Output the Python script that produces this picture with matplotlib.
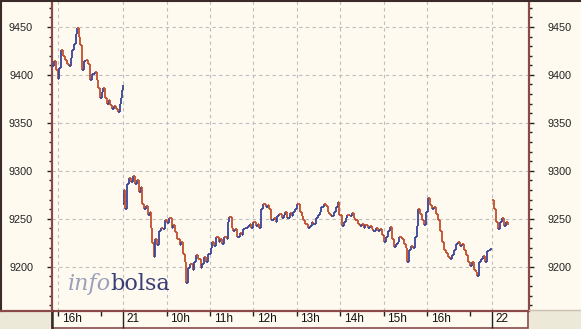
import numpy as np
import matplotlib.pyplot as plt
from matplotlib.collections import LineCollection
from matplotlib.patches import Rectangle
from matplotlib.lines import Line2D
from matplotlib.ticker import MultipleLocator

W, H = 581, 329
SESSION = 510  # trading minutes per day, 9:00 - 17:30

# minutes after 9:00 and index price, one list per trading day
d20_min = [412, 414, 417, 420, 421, 424, 427, 430, 432, 435,
           438, 439, 442, 445, 446, 449, 450, 453, 456, 459,
           462, 464, 467, 471, 474, 475, 478, 481, 482, 485,
           488, 491, 492, 495, 498, 500, 503, 506, 507, 509, 510]
d20_val = [9409, 9414, 9405, 9396, 9407, 9426, 9420, 9416, 9411, 9409,
           9418, 9426, 9432, 9443, 9449, 9439, 9431, 9405, 9414, 9416,
           9411, 9395, 9401, 9403, 9395, 9386, 9376, 9382, 9386, 9376,
           9370, 9374, 9369, 9364, 9368, 9364, 9361, 9370, 9376, 9384, 9389]

d21_min = [0, 1, 3, 6, 8, 11, 14, 17, 19, 22,
           25, 26, 29, 32, 35, 37, 39, 40, 42, 44,
           47, 50, 53, 55, 58, 61, 64, 67, 69, 72,
           75, 78, 80, 83, 86, 87, 90, 93, 96, 98,
           101, 104, 107, 109, 112, 115, 118, 121, 123, 126,
           129, 132, 134, 137, 140, 143, 145, 147, 150, 152,
           155, 158, 161, 164, 166, 169, 172, 175, 177, 180,
           183, 186, 188, 191, 194, 197, 200, 202, 205, 208,
           211, 213, 216, 219, 222, 224, 227, 230, 233, 235,
           238, 241, 244, 247, 249, 252, 255, 258, 261, 263,
           266, 269, 272, 274, 277, 280, 283, 285, 288, 291,
           294, 297, 299, 302, 305, 308, 310, 313, 316, 319,
           321, 324, 327, 330, 333, 335, 338, 341, 344, 346,
           349, 352, 355, 358, 360, 363, 366, 369, 371, 374,
           377, 380, 382, 385, 388, 391, 392, 395, 398, 400,
           403, 406, 407, 410, 413, 416, 418, 421, 424, 427,
           430, 432, 435, 438, 441, 443, 446, 449, 452, 455,
           457, 460, 463, 466, 468, 471, 474, 477, 479, 482,
           485, 488, 489, 492, 495, 497, 500, 503, 506, 509]
d21_val = [9265, 9280, 9260, 9286, 9293, 9288, 9295, 9286, 9291, 9278,
           9283, 9265, 9260, 9263, 9254, 9257, 9241, 9225, 9210, 9229,
           9223, 9237, 9241, 9239, 9249, 9246, 9251, 9241, 9244, 9236,
           9229, 9223, 9226, 9213, 9205, 9183, 9199, 9203, 9197, 9205,
           9212, 9208, 9199, 9203, 9210, 9205, 9213, 9220, 9226, 9222,
           9231, 9226, 9229, 9224, 9231, 9229, 9247, 9252, 9241, 9237,
           9239, 9231, 9235, 9233, 9239, 9241, 9243, 9245, 9241, 9247,
           9243, 9245, 9241, 9260, 9265, 9262, 9264, 9260, 9249, 9251,
           9247, 9253, 9255, 9251, 9254, 9257, 9251, 9256, 9253, 9257,
           9260, 9265, 9257, 9253, 9249, 9245, 9241, 9243, 9247, 9245,
           9251, 9254, 9257, 9262, 9266, 9263, 9257, 9255, 9253, 9257,
           9262, 9268, 9254, 9243, 9247, 9251, 9254, 9253, 9256, 9251,
           9249, 9245, 9243, 9245, 9241, 9244, 9241, 9243, 9239, 9237,
           9241, 9237, 9239, 9233, 9226, 9231, 9237, 9242, 9229, 9221,
           9224, 9226, 9231, 9229, 9224, 9220, 9205, 9218, 9222, 9220,
           9231, 9243, 9260, 9255, 9249, 9244, 9257, 9272, 9264, 9260,
           9262, 9255, 9249, 9237, 9226, 9218, 9214, 9210, 9208, 9212,
           9218, 9224, 9226, 9222, 9224, 9218, 9212, 9205, 9201, 9205,
           9197, 9195, 9190, 9205, 9208, 9211, 9205, 9216, 9218, 9220]

d22_min = [0, 3, 6, 8, 11, 14, 17, 19, 22]
d22_val = [9270, 9260, 9247, 9239, 9247, 9251, 9243, 9247, 9244]

hour_ticks = [420, 480, 570, 630, 690, 750, 810, 870, 930, 990]
hour_labels = ['16h', '', '10h', '11h', '12h', '13h', '14h', '15h', '16h', '']
day_ticks = [510, 1020]
day_labels = ['21', '22']
y_major = [9200, 9250, 9300, 9350, 9400, 9450]

cream = '#FFFAF0'
brown = '#8A4A4A'
dark = '#3A2A2A'
blue = '#3A4496'
red = '#C24E2A'
grid_col = '#BDBDBD'

plt.rcParams['font.family'] = ['Liberation Sans', 'DejaVu Sans']


def fx(px):
    return px / W


def fy(py):
    return 1 - py / H


fig = plt.figure(figsize=(W / 100, H / 100), dpi=100, facecolor=cream)
ax = fig.add_axes([fx(52), fy(311), fx(529) - fx(52), fy(1) - fy(311)])
ax.set_facecolor(cream)
ax.set_xlim(411.7, 1071)
ax.set_ylim(9154, 9477)

# grid
for y in y_major:
    ax.axhline(y, color=grid_col, lw=0.8, ls=(0, (3, 3)), zorder=1)
for x in [hour_ticks[0]] + day_ticks[:1] + hour_ticks[2:9] + day_ticks[1:]:
    ax.axvline(x, color=grid_col, lw=0.8, ls=(0, (3, 3)), zorder=1)

# price trace as tick bars: a vertical stroke per move, coloured by direction
for day, mins, vals in [(0, d20_min, d20_val), (1, d21_min, d21_val), (2, d22_min, d22_val)]:
    t = np.array(mins) + day * SESSION
    v = np.array(vals)
    segs, cols = [], []
    for i in range(1, len(t)):
        c = blue if v[i] >= v[i - 1] else red
        segs.append([(t[i - 1], v[i - 1]), (t[i], v[i - 1])])
        segs.append([(t[i], v[i - 1]), (t[i], v[i])])
        cols += [c, c]
    ax.add_collection(LineCollection(segs, colors=cols, linewidths=1.3, zorder=3))

# watermark
ax.text(fx(68), fy(290), 'info', transform=fig.transFigure, family='DejaVu Serif',
        style='italic', fontsize=16, color='#9AA0BC', va='baseline', zorder=2)
ax.text(fx(110), fy(290), 'bolsa', transform=fig.transFigure, family='DejaVu Serif',
        fontsize=16, color='#363E74', va='baseline', zorder=2)

# y axis, both sides
ax.set_yticks(y_major)
ax.yaxis.set_minor_locator(MultipleLocator(10))
ax.tick_params(axis='y', which='both', left=True, right=True, labelleft=True,
               labelright=True, direction='out', colors='#222222', labelsize=7.8)
ax.tick_params(axis='y', which='major', length=3.6, width=1, pad=10)
ax.tick_params(axis='y', which='minor', length=2.2, width=1)

# x axis ticks: short for hours, long for day starts
ax.set_xticks(hour_ticks)
ax.set_xticks(day_ticks, minor=True)
ax.tick_params(axis='x', which='major', length=3.6, width=1, colors='#222222',
               labelbottom=False)
ax.tick_params(axis='x', which='minor', length=12.2, width=1, colors='#222222',
               labelbottom=False)
for pos, lab in zip(hour_ticks + day_ticks, hour_labels + day_labels):
    if lab:
        ax.annotate(lab, xy=(pos, 0), xycoords=('data', 'axes fraction'),
                    xytext=(2.6, -1.6), textcoords='offset points',
                    ha='left', va='top', fontsize=8.5, color='#111111')

for side in ['left', 'right', 'bottom']:
    ax.spines[side].set_color(brown)
    ax.spines[side].set_linewidth(1.6)
ax.spines['top'].set_color(dark)
ax.spines['top'].set_linewidth(1.4)

# frame pieces around the plot
fig.add_artist(Rectangle((0, 0), fx(52), 18 / H, transform=fig.transFigure,
                         facecolor='#ECE9D8', edgecolor='none', zorder=-2))
fig.add_artist(Rectangle((fx(529), 0), 1 - fx(529), 18 / H, transform=fig.transFigure,
                         facecolor='#ECE9D8', edgecolor='none', zorder=-2))
fig.add_artist(Rectangle((fx(52), fy(328)), fx(528) - fx(52), fy(311) - fy(328),
                         transform=fig.transFigure, facecolor='none',
                         edgecolor=brown, lw=1.2, zorder=-1))
fig.add_artist(Line2D([fx(52), fx(52)], [fy(328), fy(311)], color=dark, lw=1.8))
fig.add_artist(Line2D([fx(0.7), fx(0.7)], [fy(311), 1], color=dark, lw=1.5))
fig.add_artist(Line2D([0, 1], [fy(0.7), fy(0.7)], color=dark, lw=1.5))
fig.add_artist(Line2D([0, fx(52)], [fy(311), fy(311)], color=brown, lw=1.6))
fig.add_artist(Line2D([fx(529), 1], [fy(310), fy(310)], color='#CDBFB0', lw=1))

fig.savefig('out.png', dpi=100, facecolor=fig.get_facecolor())
